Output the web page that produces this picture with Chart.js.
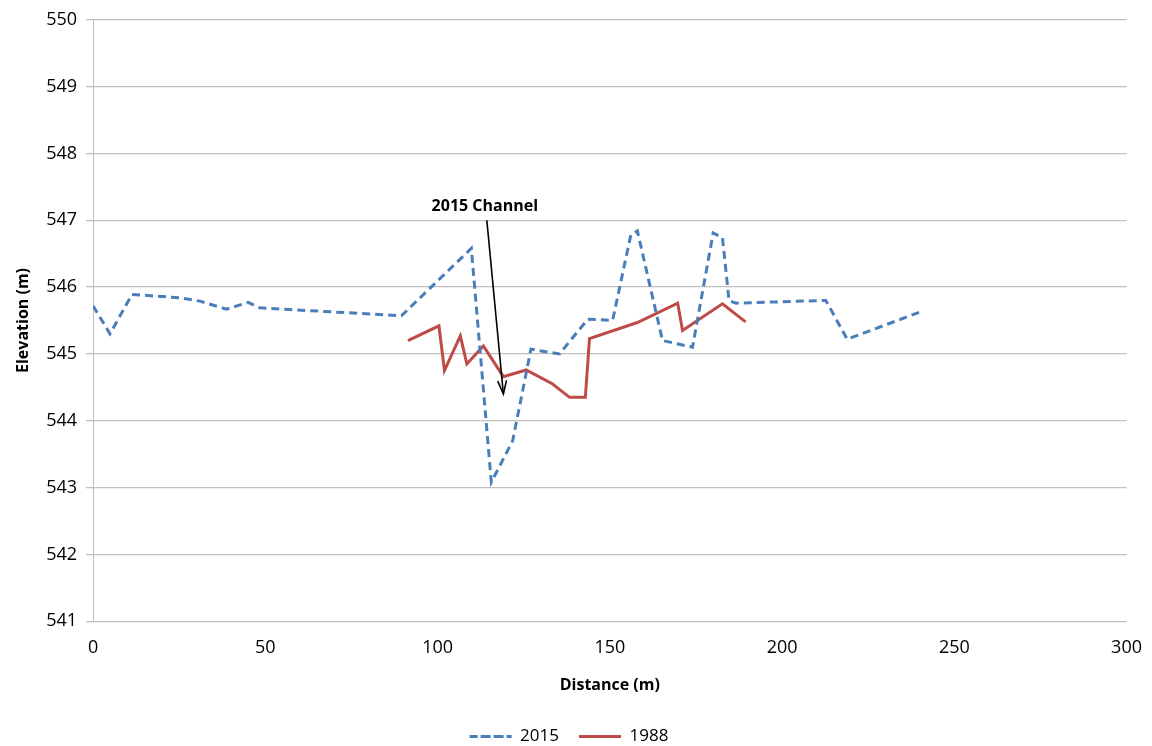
<!DOCTYPE html>
<html>
<head>
<meta charset="utf-8">
<script src="https://cdn.jsdelivr.net/npm/chart.js@4"></script>
<style>
  html, body { margin: 0; padding: 0; background: #fff; }
  #wrap { width: 1152px; height: 746px; }
</style>
</head>
<body>
<div id="wrap"><canvas id="chart" width="1152" height="746"></canvas></div>
<script>
// 2015 survey
const dist2015 = [0, 4.9, 11.3, 25, 31, 38.7, 45, 48.4, 89.5, 109.8, 115.6, 121.8, 127.1, 135.4, 143.6, 150.8, 156.1, 158, 165.3, 174, 180, 182.7, 184.6, 186.6, 212.7, 218.9, 240.2];
const elev2015 = [545.72, 545.3, 545.89, 545.84, 545.79, 545.67, 545.77, 545.69, 545.57, 546.58, 543.08, 543.7, 545.07, 545.0, 545.52, 545.5, 546.78, 546.84, 545.2, 545.1, 546.81, 546.74, 545.8, 545.76, 545.8, 545.22, 545.63];

// 1988 survey
const dist1988 = [91.4, 100.4, 102, 106.6, 108.5, 113.3, 119.1, 125.7, 133.4, 138.3, 142.9, 144.1, 158, 169.7, 171.1, 182.7, 189.4];
const elev1988 = [545.2, 545.42, 544.75, 545.27, 544.85, 545.12, 544.66, 544.76, 544.55, 544.35, 544.35, 545.23, 545.47, 545.76, 545.35, 545.75, 545.48];

// annotation arrow: from label down to the channel
const arrowFrom = { x: 114.3, y: 547.0 };
const arrowTo = { x: 119.1, y: 544.4 };
const arrowLabel = '2015 Channel';

const toPoints = (xs, ys) => xs.map((x, i) => ({ x, y: ys[i] }));

const font = "'Open Sans', 'Liberation Sans', sans-serif";

const arrowPlugin = {
  id: 'arrow',
  afterDatasetsDraw(chart) {
    const { ctx, scales: { x, y } } = chart;
    const x1 = x.getPixelForValue(arrowFrom.x), y1 = y.getPixelForValue(arrowFrom.y);
    const x2 = x.getPixelForValue(arrowTo.x), y2 = y.getPixelForValue(arrowTo.y);
    ctx.save();
    ctx.strokeStyle = '#000';
    ctx.fillStyle = '#000';
    ctx.lineWidth = 1.6;
    ctx.beginPath();
    ctx.moveTo(x1, y1);
    ctx.lineTo(x2, y2);
    ctx.stroke();
    // arrow head
    const ang = Math.atan2(y2 - y1, x2 - x1);
    const len = 14, spread = 0.32;
    ctx.beginPath();
    ctx.moveTo(x2 - len * Math.cos(ang - spread), y2 - len * Math.sin(ang - spread));
    ctx.lineTo(x2, y2);
    ctx.lineTo(x2 - len * Math.cos(ang + spread), y2 - len * Math.sin(ang + spread));
    ctx.stroke();
    ctx.font = 'bold 16px ' + font;
    ctx.textAlign = 'center';
    ctx.textBaseline = 'bottom';
    ctx.fillText(arrowLabel, x1 - 2, y1 - 6);
    ctx.restore();
  }
};

new Chart(document.getElementById('chart').getContext('2d'), {
  type: 'line',
  data: {
    datasets: [
      {
        label: '2015',
        data: toPoints(dist2015, elev2015),
        borderColor: '#4a7ebb',
        backgroundColor: '#4a7ebb',
        borderWidth: 3,
        borderDash: [8, 5],
        pointRadius: 0,
        tension: 0
      },
      {
        label: '1988',
        data: toPoints(dist1988, elev1988),
        borderColor: '#be4b48',
        backgroundColor: '#be4b48',
        borderWidth: 3,
        pointRadius: 0,
        tension: 0
      }
    ]
  },
  options: {
    responsive: false,
    animation: false,
    layout: { padding: { top: 1, right: 24, left: 10, bottom: -9 } },
    plugins: {
      legend: {
        position: 'bottom',
        labels: {
          color: '#000',
          font: { family: font, size: 17 },
          boxWidth: 42,
          boxHeight: 0,
          padding: 20
        }
      },
      tooltip: { enabled: false }
    },
    scales: {
      x: {
        type: 'linear',
        min: 0,
        max: 300,
        ticks: { stepSize: 50, color: '#000', font: { family: font, size: 18 }, padding: 10 },
        grid: { display: false, drawOnChartArea: false, tickLength: 6 },
        border: { color: '#bfbfbf' },
        title: { display: true, text: 'Distance (m)', color: '#000', font: { family: font, size: 16, weight: 'bold' }, padding: { top: 7, bottom: 13 } }
      },
      y: {
        min: 541,
        max: 550,
        ticks: { stepSize: 1, color: '#000', font: { family: font, size: 18 }, padding: 9 },
        grid: { color: '#c0c0c0', lineWidth: 1.3, tickLength: 7 },
        border: { color: '#bfbfbf' },
        title: { display: true, text: 'Elevation (m)', color: '#000', font: { family: font, size: 16, weight: 'bold' }, padding: { bottom: 4 } }
      }
    }
  },
  plugins: [arrowPlugin]
});
</script>
</body>
</html>
